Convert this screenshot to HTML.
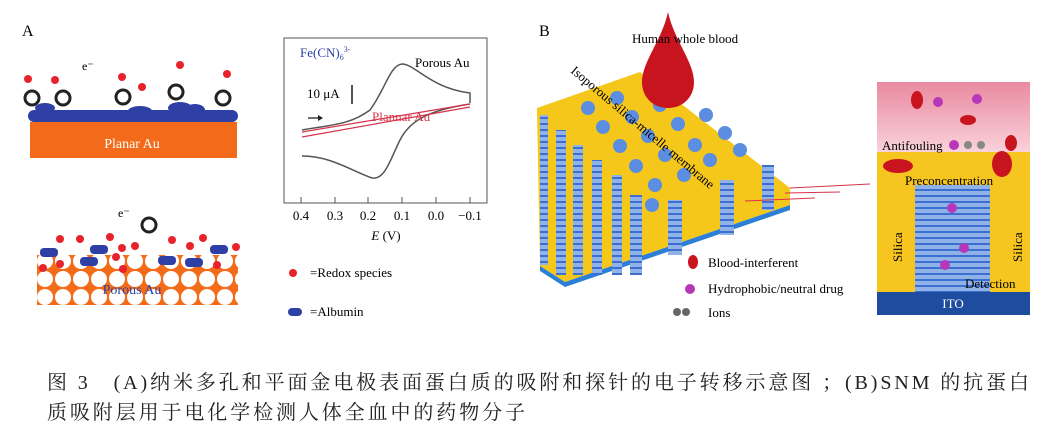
<!DOCTYPE html>
<html><head><meta charset="utf-8"><style>
body{margin:0;background:#fff;width:1043px;height:434px;overflow:hidden}
svg{position:absolute;left:0;top:0}
.cap{position:absolute;left:47px;font-family:"Liberation Serif","Noto Serif CJK SC",serif;font-size:20px;color:#222;white-space:nowrap}
</style></head><body>
<svg width="1043" height="434" viewBox="0 0 1043 434" font-family="Liberation Serif, serif">
<defs>
<pattern id="pz" width="18" height="18" patternUnits="userSpaceOnUse"><rect width="18" height="18" fill="#f26c1a"/><circle cx="9" cy="9" r="8" fill="#fff"/></pattern>
<pattern id="st" width="6" height="6" patternUnits="userSpaceOnUse"><rect width="6" height="6" fill="#8fb3e8"/><rect y="3" width="6" height="2" fill="#3d6fd0"/></pattern>
<linearGradient id="pk" x1="0" y1="0" x2="0" y2="1"><stop offset="0" stop-color="#e98aa0"/><stop offset="1" stop-color="#fad4dc"/></linearGradient>
</defs>
<text x="22" y="36" font-size="16">A</text>
<rect x="30" y="122" width="207" height="36" fill="#f26a1a"/>
<text x="132" y="148" font-size="14" fill="#fff" text-anchor="middle">Planar Au</text>
<g fill="#2e3fa5">
<rect x="28" y="110" width="210" height="12" rx="6"/>
<ellipse cx="45" cy="108" rx="10" ry="5"/><ellipse cx="140" cy="111" rx="12" ry="5"/><ellipse cx="180" cy="108" rx="12" ry="6"/><ellipse cx="195" cy="110" rx="10" ry="6"/>
</g>
<text x="82" y="70" font-size="12">e⁻</text>
<g fill="#e8232c">
<circle cx="28" cy="79" r="4"/><circle cx="55" cy="80" r="4"/><circle cx="122" cy="77" r="4"/><circle cx="142" cy="87" r="4"/><circle cx="180" cy="65" r="4"/><circle cx="227" cy="74" r="4"/>
</g>
<g fill="none" stroke="#222" stroke-width="3">
<circle cx="32" cy="98" r="7"/><circle cx="63" cy="98" r="7"/><circle cx="123" cy="97" r="7"/><circle cx="176" cy="92" r="7"/><circle cx="223" cy="98" r="7"/>
<circle cx="149" cy="225" r="7"/>
</g>
<rect x="37" y="255" width="201" height="50" fill="url(#pz)"/>
<g fill="#2e3fa5"><rect x="40" y="248" width="18" height="9" rx="4"/><rect x="90" y="245" width="18" height="9" rx="4"/><rect x="80" y="257" width="18" height="9" rx="4"/><rect x="158" y="256" width="18" height="9" rx="4"/><rect x="185" y="258" width="18" height="9" rx="4"/><rect x="210" y="245" width="18" height="9" rx="4"/></g>
<g fill="#e8232c"><circle cx="60" cy="239" r="4"/><circle cx="80" cy="239" r="4"/><circle cx="110" cy="237" r="4"/><circle cx="122" cy="248" r="4"/><circle cx="135" cy="246" r="4"/><circle cx="172" cy="240" r="4"/><circle cx="190" cy="246" r="4"/><circle cx="203" cy="238" r="4"/><circle cx="236" cy="247" r="4"/><circle cx="43" cy="268" r="4"/><circle cx="60" cy="264" r="4"/><circle cx="123" cy="269" r="4"/><circle cx="217" cy="265" r="4"/><circle cx="116" cy="257" r="4"/></g>
<text x="118" y="217" font-size="12">e⁻</text>
<text x="132" y="294" font-size="14" fill="#2e3fa5" text-anchor="middle">Porous Au</text>
<rect x="284" y="38" width="203" height="165" fill="#fff" stroke="#555"/>
<g stroke="#555"><line x1="301" y1="197" x2="301" y2="203"/><line x1="335" y1="197" x2="335" y2="203"/><line x1="368" y1="197" x2="368" y2="203"/><line x1="402" y1="197" x2="402" y2="203"/><line x1="436" y1="197" x2="436" y2="203"/><line x1="470" y1="197" x2="470" y2="203"/></g>
<g font-size="13" text-anchor="middle"><text x="301" y="220">0.4</text><text x="335" y="220">0.3</text><text x="368" y="220">0.2</text><text x="402" y="220">0.1</text><text x="436" y="220">0.0</text><text x="470" y="220">−0.1</text></g>
<text x="386" y="240" font-size="13" text-anchor="middle"><tspan font-style="italic">E</tspan> (V)</text>
<path d="M302,130 C330,125 350,125 370,110 C385,90 390,65 402,64 C415,64 430,88 470,93 L470,103" fill="none" stroke="#555" stroke-width="1.5"/>
<path d="M302,156 C330,156 350,170 372,178 C385,180 390,160 400,140 C410,120 430,110 470,104" fill="none" stroke="#555" stroke-width="1.5"/>
<path d="M302,132 L470,104 M302,137 L470,107" fill="none" stroke="#d8334a" stroke-width="1.2"/>
<text x="300" y="57" font-size="13" fill="#2e3fa5">Fe(CN)<tspan font-size="8" dy="3">6</tspan><tspan font-size="8" dy="-8">3-</tspan></text>
<text x="415" y="67" font-size="13">Porous Au</text>
<text x="372" y="121" font-size="13" fill="#d8334a">Plannar Au</text>
<text x="307" y="98" font-size="13">10 μA</text>
<line x1="352" y1="85" x2="352" y2="104" stroke="#555" stroke-width="2"/>
<path d="M308,118 L322,118" stroke="#222" stroke-width="1.3"/><path d="M318,115 L323,118 L318,121z" fill="#222"/>
<circle cx="293" cy="273" r="4" fill="#e8232c"/><text x="310" y="277" font-size="13">=Redox species</text>
<rect x="288" y="308" width="14" height="8" rx="4" fill="#2e3fa5"/><text x="310" y="316" font-size="13">=Albumin</text>
<text x="539" y="36" font-size="16">B</text>
<polygon points="537,108 640,72 790,188 790,205 565,282 540,266" fill="#f5c71a"/>
<polygon points="540,266 565,282 790,205 790,210 565,287 540,271" fill="#2c7fd6"/>
<g fill="#5b8de0">
<circle cx="588" cy="108" r="7"/><circle cx="617" cy="98" r="7"/><circle cx="603" cy="127" r="7"/><circle cx="632" cy="117" r="7"/><circle cx="660" cy="105" r="7"/><circle cx="620" cy="146" r="7"/><circle cx="648" cy="136" r="7"/><circle cx="678" cy="124" r="7"/><circle cx="706" cy="115" r="7"/><circle cx="636" cy="166" r="7"/><circle cx="665" cy="155" r="7"/><circle cx="695" cy="145" r="7"/><circle cx="725" cy="133" r="7"/><circle cx="655" cy="185" r="7"/><circle cx="684" cy="175" r="7"/><circle cx="710" cy="160" r="7"/><circle cx="740" cy="150" r="7"/><circle cx="652" cy="205" r="7"/>
</g>
<g fill="url(#st)">
<rect x="540" y="115" width="8" height="150"/><rect x="556" y="130" width="10" height="145"/><rect x="573" y="145" width="10" height="130"/><rect x="592" y="160" width="10" height="115"/><rect x="612" y="175" width="10" height="100"/><rect x="630" y="195" width="12" height="80"/><rect x="668" y="200" width="14" height="55"/><rect x="720" y="180" width="14" height="55"/><rect x="762" y="165" width="12" height="45"/>
</g>
<path d="M668,12 C662,40 642,62 642,82 C642,98 654,108 668,108 C682,108 694,98 694,82 C694,62 674,40 668,12z" fill="#c8141e"/>
<text x="632" y="43" font-size="13">Human whole blood</text>
<text x="570" y="72" font-size="13" transform="rotate(40 570 72)">Isoporous silica-micelle membrane</text>
<g stroke="#d8334a" stroke-width="1"><line x1="745" y1="201" x2="815" y2="198"/><line x1="785" y1="193" x2="840" y2="192"/><line x1="790" y1="188" x2="870" y2="184"/></g>
<rect x="877" y="82" width="153" height="72" fill="url(#pk)"/>
<rect x="877" y="152" width="153" height="140" fill="#f7c51f"/>
<rect x="915" y="185" width="75" height="107" fill="url(#st)"/>
<rect x="877" y="292" width="153" height="23" fill="#1e4da0"/>
<text x="953" y="308" font-size="13" fill="#fff" text-anchor="middle">ITO</text>
<g fill="#c8141e"><ellipse cx="917" cy="100" rx="6" ry="9"/><ellipse cx="968" cy="120" rx="8" ry="5"/><ellipse cx="1011" cy="143" rx="6" ry="8"/><ellipse cx="898" cy="166" rx="15" ry="7"/><ellipse cx="1002" cy="164" rx="10" ry="13"/></g>
<g fill="#b637b8"><circle cx="938" cy="102" r="5"/><circle cx="977" cy="99" r="5"/><circle cx="954" cy="145" r="5"/><circle cx="952" cy="208" r="5"/><circle cx="964" cy="248" r="5"/><circle cx="945" cy="265" r="5"/></g>
<g fill="#888"><circle cx="968" cy="145" r="4"/><circle cx="981" cy="145" r="4"/></g>
<text x="882" y="150" font-size="13">Antifouling</text>
<text x="905" y="185" font-size="13">Preconcentration</text>
<text x="965" y="288" font-size="13">Detection</text>
<text x="902" y="262" font-size="13" transform="rotate(-90 902 262)">Silica</text>
<text x="1022" y="262" font-size="13" transform="rotate(-90 1022 262)">Silica</text>
<ellipse cx="693" cy="262" rx="5" ry="7" fill="#c8141e"/><text x="708" y="267" font-size="13">Blood-interferent</text>
<circle cx="690" cy="289" r="5" fill="#b637b8"/><text x="708" y="293" font-size="13">Hydrophobic/neutral drug</text>
<circle cx="677" cy="312" r="4" fill="#666"/><circle cx="686" cy="312" r="4" fill="#666"/><text x="708" y="317" font-size="13">Ions</text>
</svg>
<div class="cap" style="top:366px;letter-spacing:2.9px">图 3　(A)纳米多孔和平面金电极表面蛋白质的吸附和探针的电子转移示意图 ；(B)SNM 的抗蛋白</div>
<div class="cap" style="top:396px;letter-spacing:2.9px">质吸附层用于电化学检测人体全血中的药物分子</div>
</body></html>
